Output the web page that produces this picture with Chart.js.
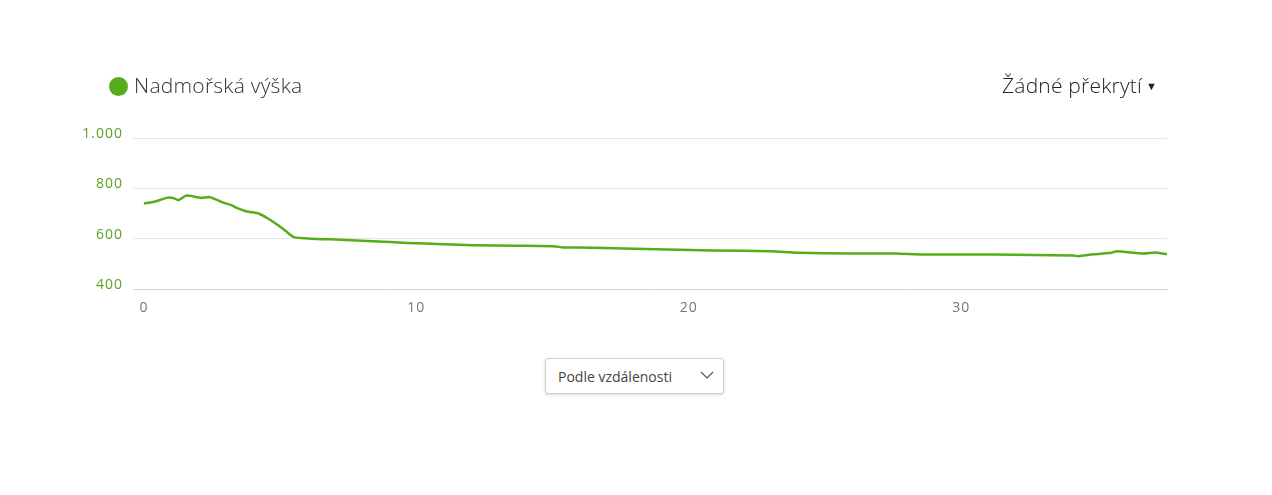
<!DOCTYPE html>
<html>
<head>
<meta charset="utf-8">
<script src="https://cdn.jsdelivr.net/npm/chart.js@4/dist/chart.umd.min.js"></script>
<style>
  html, body { margin: 0; padding: 0; background: #fff; width: 1272px; height: 495px; overflow: hidden; font-family: "Open Sans", sans-serif; }
  #wrap { position: absolute; left: 0; top: 0; width: 1272px; height: 330px; }
  .legend { position: absolute; left: 109px; top: 71px; font-size: 21px; color: #333; font-weight: 300; letter-spacing: 0.25px; }
  .legend .dot { position: absolute; left: 0; top: 6px; width: 19px; height: 19px; border-radius: 50%; background: #55ad1c; }
  .legend span.t { position: absolute; left: 25px; top: 0; white-space: nowrap; }
  .overlay { position: absolute; right: 115px; top: 71px; font-size: 21px; color: #222; font-weight: 300; white-space: nowrap; letter-spacing: 0.2px; }
  .overlay .arr { font-size: 11px; position: relative; top: -3px; margin-left: 4px; }
  .select { position: absolute; left: 545px; top: 358px; width: 177px; height: 34px; border: 1px solid #cfcfcf; border-radius: 3px; box-shadow: 0 1px 3px rgba(0,0,0,0.15); background: #fff; }
  .select .t { position: absolute; left: 12px; top: 8px; font-size: 14px; color: #444; }
  .select svg { position: absolute; left: 154px; top: 12px; }
</style>
</head>
<body>
<div id="wrap"><canvas id="c" width="1272" height="330"></canvas></div>
<div class="legend"><div class="dot"></div><span class="t">Nadmořská výška</span></div>
<div class="overlay">Žádné překrytí<span class="arr">▼</span></div>
<div class="select"><span class="t">Podle vzdálenosti</span>
  <svg width="14" height="9" viewBox="0 0 14 9"><polyline points="1,1 7,7 13,1" fill="none" stroke="#555" stroke-width="1.2"/></svg>
</div>
<script>
const distanceKm = [0, 0.38, 0.87, 1.09, 1.27, 1.54, 1.72, 2.09, 2.42, 2.7, 3.0, 3.19, 3.43, 3.74, 3.98, 4.23, 4.54, 4.9, 5.21, 5.51, 6.12, 7.22, 8.4, 9.67, 11.0, 12.1, 13.6, 15.05, 15.4, 16.0, 16.9, 17.6, 19.2, 20.9, 23.0, 24.0, 25.9, 27.6, 28.6, 31.2, 34.1, 34.3, 34.85, 35.5, 35.7, 36.7, 37.1, 37.55];
const elevationM = [740, 747, 763, 761, 753, 771, 770, 762, 765, 753, 740, 734, 721, 709, 705, 699, 681, 655, 630, 606, 600, 596, 590, 583, 578, 574, 572, 570, 565, 565, 563, 561, 557, 553, 550, 544, 541, 541, 537, 537, 533, 530, 538, 544, 550, 541, 545, 538];
const xTicks = [0, 10, 20, 30];
const yTicks = [400, 600, 800, 1000];
const seriesName = "Nadmořská výška";

const points = distanceKm.map((d, i) => ({ x: d, y: elevationM[i] }));

const spacingPlugin = {
  id: 'spacing',
  beforeDraw(chart) { chart.ctx.letterSpacing = '1px'; }
};

new Chart(document.getElementById('c'), {
  type: 'line',
  data: {
    datasets: [{
      label: seriesName,
      data: points,
      borderColor: '#55ad1c',
      borderWidth: 2.5,
      pointRadius: 0,
      tension: 0.2,
      fill: false
    }]
  },
  plugins: [spacingPlugin],
  options: {
    responsive: false,
    animation: false,
    layout: { padding: { left: 0, top: 138, right: 105, bottom: 0 } },
    plugins: { legend: { display: false }, tooltip: { enabled: false } },
    scales: {
      x: {
        type: 'linear',
        min: -0.4,
        max: 37.55,
        afterFit: (s) => { s.height = 41; },
        afterBuildTicks: (s) => { s.ticks = xTicks.map(v => ({ value: v })); },
        grid: { display: false, drawTicks: false },
        border: { display: true, color: '#ccd6eb', width: 1 },
        ticks: { color: '#777', padding: 11, font: { family: 'Open Sans', size: 14 }, maxRotation: 0 }
      },
      y: {
        min: 400,
        max: 1000,
        afterFit: (s) => { s.width = 133; },
        afterBuildTicks: (s) => { s.ticks = yTicks.map(v => ({ value: v })); },
        grid: { color: '#e6e6e6', drawTicks: false, lineWidth: 1 },
        border: { display: false },
        ticks: {
          color: '#5aa320',
          padding: 10,
          labelOffset: -4,
          font: { family: 'Open Sans', size: 14 },
          callback: (v) => v >= 1000 ? (Math.floor(v / 1000) + '.' + String(v % 1000).padStart(3, '0')) : String(v)
        }
      }
    }
  }
});
</script>
</body>
</html>
